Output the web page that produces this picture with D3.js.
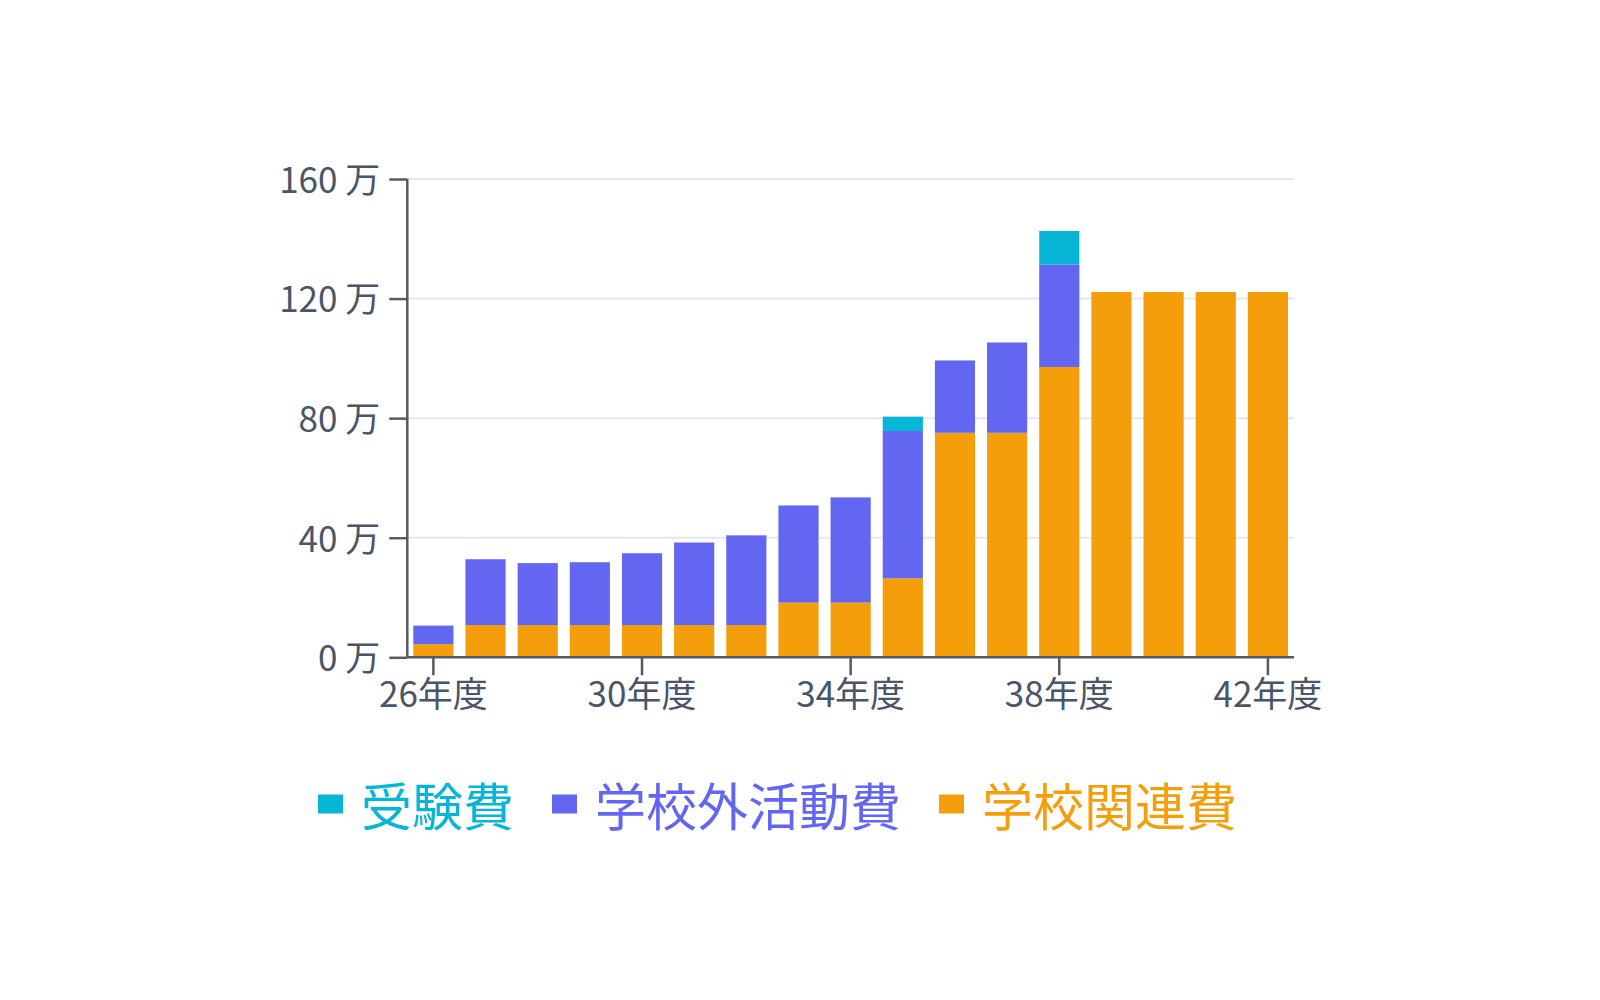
<!DOCTYPE html>
<html>
<head>
<meta charset="utf-8">
<script src="https://cdn.jsdelivr.net/npm/d3@7"></script>
<style>
  html, body { margin: 0; padding: 0; background: #fff; }
  svg { display: block; font-family: "Noto Sans CJK JP", "Noto Sans", sans-serif; }
</style>
</head>
<body>
<svg id="chart" width="1600" height="1000"></svg>
<script>
// Data (values in 万円)
const categories = ["26","27","28","29","30","31","32","33","34","35","36","37","38","39","40","41","42"];
const schoolRelated = [4.4, 10.8, 10.8, 10.8, 10.8, 10.8, 10.8, 18.3, 18.3, 26.4, 75.1, 75.1, 97.1, 122.2, 122.2, 122.2, 122.2];
const outsideActivity = [6.2, 22.0, 20.7, 21.0, 24.0, 27.6, 30.0, 32.5, 35.2, 49.3, 24.2, 30.2, 34.3, 0, 0, 0, 0];
const examFees = [0, 0, 0, 0, 0, 0, 0, 0, 0, 4.8, 0, 0, 11.2, 0, 0, 0, 0];
const seriesNames = ["受験費", "学校外活動費", "学校関連費"];
const seriesColors = ["#06b6d4", "#6366f1", "#f59e0b"];
const yTicks = [0, 40, 80, 120, 160];
const xTickCats = ["26","30","34","38","42"];

(function () {
const svg = d3.select("#chart");
const mLeft = 407.3, mRight = 1294, mTop = 179, mBottom = 657.3;
const textColor = "#4a5568";
const axisColor = "#555b63";

const x = d3.scaleBand().domain(categories).range([mLeft, mRight]).paddingInner(0.23).paddingOuter(0.115);
const y = d3.scaleLinear().domain([0, 160]).range([mBottom, mTop]);

// gridlines
svg.append("g").selectAll("line").data(yTicks.filter(d => d > 0)).join("line")
  .attr("x1", mLeft).attr("x2", mRight)
  .attr("y1", d => y(d)).attr("y2", d => y(d))
  .attr("stroke", "#e3e8f0").attr("stroke-width", 2);

// stacked: bottom = 学校関連費, then 学校外活動費, then 受験費
const rows = categories.map((c, i) => ({cat: c, s0: schoolRelated[i], s1: outsideActivity[i], s2: examFees[i]}));
const stack = d3.stack().keys(["s0", "s1", "s2"])(rows);
const stackColors = [seriesColors[2], seriesColors[1], seriesColors[0]];

svg.append("g").selectAll("g").data(stack).join("g")
  .attr("fill", (d, i) => stackColors[i])
  .selectAll("rect").data(d => d.filter(p => p[1] - p[0] > 0)).join("rect")
  .attr("x", d => x(d.data.cat))
  .attr("width", x.bandwidth())
  .attr("y", d => y(d[1]))
  .attr("height", d => y(d[0]) - y(d[1]));

// y axis
const yAxis = svg.append("g").attr("transform", `translate(${mLeft},0)`)
  .call(d3.axisLeft(y).tickValues(yTicks).tickFormat(d => d + " 万").tickSize(18).tickPadding(9));
// x axis
const xAxis = svg.append("g").attr("transform", `translate(0,${mBottom})`)
  .call(d3.axisBottom(x).tickValues(xTickCats).tickFormat(d => d + "年度").tickSize(18).tickPadding(7));

[yAxis, xAxis].forEach(g => {
  g.select(".domain").attr("stroke", axisColor).attr("stroke-width", 2.5);
  g.selectAll(".tick line").attr("stroke", axisColor).attr("stroke-width", 2.5);
  g.selectAll(".tick text").attr("fill", textColor).attr("font-size", 35).attr("font-weight", 400)
    .attr("font-family", "'Noto Sans CJK JP', 'Noto Sans', sans-serif");
});
yAxis.selectAll(".tick text").attr("dy", "0.38em");
yAxis.select(".domain").attr("d", `M0,${mBottom}V${mTop}`);
xAxis.select(".domain").attr("d", `M${mLeft},0H${mRight}`);

// legend
const legend = svg.append("g");
let lx = 318;
const ly = 804;
seriesNames.forEach((name, i) => {
  legend.append("rect").attr("x", lx).attr("y", ly - 9.5).attr("width", 25).attr("height", 19)
    .attr("fill", seriesColors[i]);
  const t = legend.append("text").attr("x", lx + 25 + 18).attr("y", ly)
    .attr("dominant-baseline", "central")
    .attr("font-size", 51).attr("font-weight", 400).attr("fill", seriesColors[i]).text(name);
  lx = lx + 25 + 18 + t.node().getComputedTextLength() + 38;
});
})();
</script>
</body>
</html>
